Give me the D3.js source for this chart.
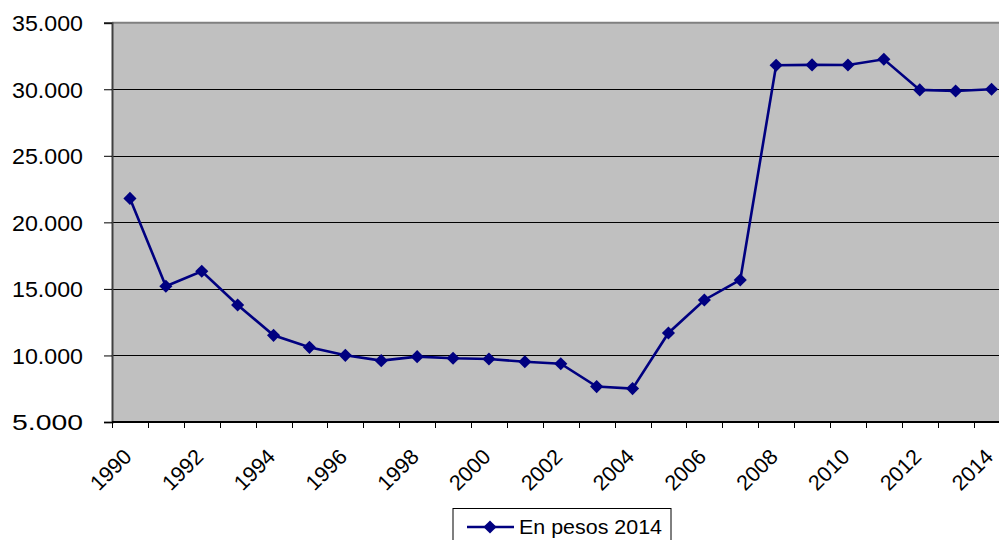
<!DOCTYPE html>
<html>
<head>
<meta charset="utf-8">
<script src="https://cdn.jsdelivr.net/npm/d3@7"></script>
<style>
  html, body { margin: 0; padding: 0; background: #fff; }
  svg { display: block; }
  text { font-family: "Liberation Sans", Arial, sans-serif; fill: #000; }
</style>
</head>
<body>
<svg id="chart" width="999" height="540"></svg>
<script>
// Annual values, expressed in 2014 pesos
const years = ["1990","1991","1992","1993","1994","1995","1996","1997","1998","1999",
               "2000","2001","2002","2003","2004","2005","2006","2007","2008","2009",
               "2010","2011","2012","2013","2014"];
const values = [21800, 15200, 16330, 13790, 11510, 10610, 10010, 9610, 9910, 9790,
                9730, 9530, 9380, 7660, 7510, 11690, 14170, 15670, 31800, 31830,
                31820, 32250, 29950, 29870, 30000];
const yTicks = [5000, 10000, 15000, 20000, 25000, 30000, 35000];
const xLabelYears = ["1990","1992","1994","1996","1998","2000","2002","2004","2006","2008","2010","2012","2014"];
const seriesName = "En pesos 2014";

const svg = d3.select("#chart");
const plotLeft = 112, plotTop = 22.7, plotBottom = 422, bandW = 35.9;
const plotRight = plotLeft + bandW * years.length;

const x = d3.scaleBand().domain(years).range([plotLeft, plotRight]).paddingInner(0).paddingOuter(0);
const y = d3.scaleLinear().domain([5000, 35000]).range([plotBottom, plotTop]);

// plot background
svg.append("rect")
  .attr("x", plotLeft).attr("y", plotTop)
  .attr("width", plotRight - plotLeft).attr("height", plotBottom - plotTop)
  .attr("fill", "#c0c0c0");

// horizontal gridlines
svg.append("g").selectAll("line")
  .data(yTicks.filter(v => v > 5000 && v < 35000))
  .join("line")
  .attr("x1", plotLeft).attr("x2", plotRight)
  .attr("y1", d => Math.round(y(d)) + 0.5).attr("y2", d => Math.round(y(d)) + 0.5)
  .attr("stroke", "#000").attr("stroke-width", 1);

// top border of plot area
svg.append("line")
  .attr("x1", plotLeft).attr("x2", plotRight)
  .attr("y1", y(35000)).attr("y2", y(35000))
  .attr("stroke", "#808080").attr("stroke-width", 2);

// y axis
const fmt = d => d3.format(",")(d).replace(/,/g, ".");
const yAxis = d3.axisLeft(y).tickValues(yTicks).tickSize(8).tickPadding(21).tickFormat(fmt);
const gy = svg.append("g").attr("transform", `translate(${plotLeft},0)`).call(yAxis);
gy.select(".domain").attr("stroke", "#404040").attr("stroke-width", 2);
gy.selectAll(".tick line").attr("stroke", "#000");
gy.selectAll(".tick text")
  .attr("font-size", 22)
  .attr("font-family", "'Liberation Sans', Arial, sans-serif")
  .attr("textLength", 71).attr("lengthAdjust", "spacingAndGlyphs")
  .attr("dy", "0.36em");

// x axis: ticks at category boundaries
const boundaries = d3.range(years.length + 1).map(i => plotLeft + i * bandW);
const gx = svg.append("g");
gx.append("line")
  .attr("x1", plotLeft).attr("x2", plotRight)
  .attr("y1", plotBottom).attr("y2", plotBottom)
  .attr("stroke", "#000").attr("stroke-width", 2);
gx.selectAll("line.tk").data(boundaries).join("line")
  .attr("class", "tk")
  .attr("x1", d => Math.round(d) + 0.5).attr("x2", d => Math.round(d) + 0.5)
  .attr("y1", plotBottom).attr("y2", plotBottom + 6)
  .attr("stroke", "#000").attr("stroke-width", 1);
gx.selectAll("text").data(xLabelYears).join("text")
  .attr("transform", d => `translate(${x(d) + x.bandwidth() / 2 + 3},${plotBottom + 36}) rotate(-45)`)
  .attr("text-anchor", "end")
  .attr("font-size", 21.5)
  .text(d => d);

// series line
const cx = d => x(d) + x.bandwidth() / 2;
const line = d3.line().x((d, i) => cx(years[i])).y(d => y(d));
svg.append("path")
  .datum(values)
  .attr("d", line)
  .attr("fill", "none")
  .attr("stroke", "#000080")
  .attr("stroke-width", 2.6);

// diamond markers
const diamond = d3.symbol().type(d3.symbolDiamond2).size(110);
svg.append("g").selectAll("path").data(values).join("path")
  .attr("d", diamond)
  .attr("transform", (d, i) => `translate(${cx(years[i])},${y(d)})`)
  .attr("fill", "#000080");

// legend
const lg = svg.append("g");
lg.append("rect")
  .attr("x", 453).attr("y", 508.5)
  .attr("width", 218).attr("height", 40)
  .attr("fill", "#fff").attr("stroke", "#000").attr("stroke-width", 1);
lg.append("line")
  .attr("x1", 467).attr("x2", 514)
  .attr("y1", 527).attr("y2", 527)
  .attr("stroke", "#000080").attr("stroke-width", 2.5);
lg.append("path")
  .attr("d", diamond)
  .attr("transform", "translate(490,527)")
  .attr("fill", "#000080");
lg.append("text")
  .attr("x", 519).attr("y", 534)
  .attr("font-size", 21)
  .attr("textLength", 143).attr("lengthAdjust", "spacingAndGlyphs")
  .text(seriesName);
</script>
</body>
</html>
